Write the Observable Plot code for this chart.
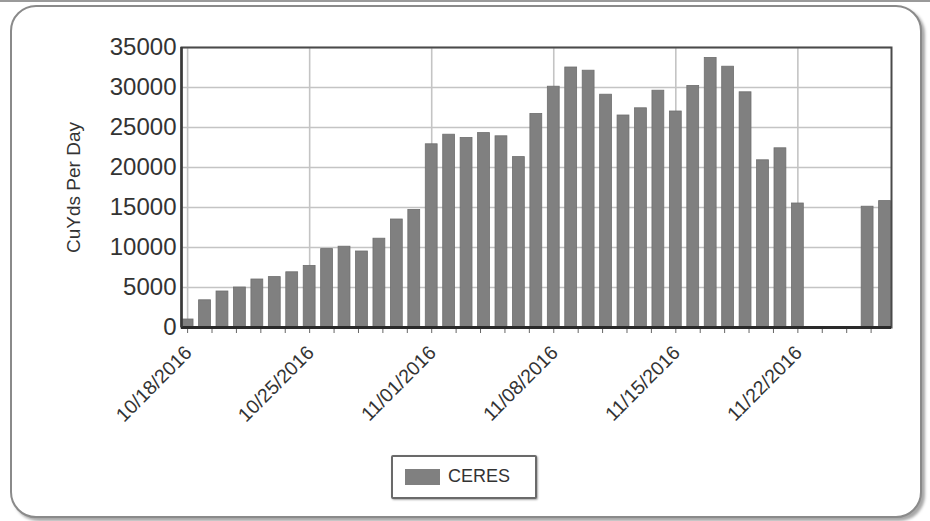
<!DOCTYPE html>
<html>
<head>
<meta charset="utf-8">
<script src="https://cdn.jsdelivr.net/npm/d3@7"></script>
<script src="https://cdn.jsdelivr.net/npm/@observablehq/plot@0.6"></script>
<style>
  html, body { margin: 0; padding: 0; background: #fff; width: 930px; height: 521px; overflow: hidden; font-family: "Liberation Sans", Arial, sans-serif; }
  #topline { position: absolute; left: 0; top: 0; width: 930px; height: 2px; background: #9a9a9a; }
  #frame { position: absolute; left: 10px; top: 5px; width: 908px; height: 509px; border: 2px solid #8a8a8a; border-radius: 26px; box-shadow: 3px 3px 3px rgba(0,0,0,0.35); background: #fff; }
  #chart { position: absolute; left: 0; top: 0; }
  #legend { position: absolute; left: 391px; top: 455px; width: 142px; height: 40px; border: 2px solid #6a6a6a; border-radius: 2px; box-shadow: 1px 1px 2px rgba(0,0,0,0.35); background: #fff; }
  #legend .sw { position: absolute; left: 12px; top: 12px; width: 35px; height: 16px; background: #808080; }
  #legend .lb { position: absolute; left: 55px; top: 9px; font-size: 18px; color: #333; line-height: 20px; }
</style>
</head>
<body>
<div id="topline"></div>
<div id="frame"></div>
<div id="chart"></div>
<div id="legend"><div class="sw"></div><div class="lb">CERES</div></div>
<script>
// ---- data ----
const dates = [
  "2016-10-18","2016-10-19","2016-10-20","2016-10-21","2016-10-22","2016-10-23","2016-10-24",
  "2016-10-25","2016-10-26","2016-10-27","2016-10-28","2016-10-29","2016-10-30","2016-10-31",
  "2016-11-01","2016-11-02","2016-11-03","2016-11-04","2016-11-05","2016-11-06","2016-11-07",
  "2016-11-08","2016-11-09","2016-11-10","2016-11-11","2016-11-12","2016-11-13","2016-11-14",
  "2016-11-15","2016-11-16","2016-11-17","2016-11-18","2016-11-19","2016-11-20","2016-11-21",
  "2016-11-22","2016-11-23","2016-11-24","2016-11-25","2016-11-26","2016-11-27"
];
const ceres = [
  1000, 3400, 4500, 5000, 6000, 6300, 6900,
  7700, 9800, 10100, 9500, 11100, 13500, 14700,
  22900, 24100, 23700, 24300, 23900, 21300, 26700,
  30100, 32500, 32100, 29100, 26500, 27400, 29600,
  27000, 30200, 33700, 32600, 29400, 20900, 22400,
  15500, null, null, null, 15100, 15800
];
const xTickLabels = ["10/18/2016","10/25/2016","11/01/2016","11/08/2016","11/15/2016","11/22/2016"];
const yTicks = [0, 5000, 10000, 15000, 20000, 25000, 30000, 35000];
const seriesName = "CERES";
const yLabel = "CuYds Per Day";

// ---- build ----
const DAY = 864e5;
const parse = d3.utcParse("%Y-%m-%d");
const parseLabel = d3.utcParse("%m/%d/%Y");
const rows = dates.map((d, i) => ({date: parse(d), value: ceres[i]})).filter(r => r.value != null);
const half = 0.34 * DAY;
const bars = rows.map(r => ({x1: new Date(+r.date - half), x2: new Date(+r.date + half), value: r.value}));
const weekTicks = xTickLabels.map(s => parseLabel(s));
const first = parse(dates[0]), last = parse(dates[dates.length - 1]);
const xDomain = [new Date(+first - 0.35 * DAY), new Date(+last + 0.37 * DAY)];
// minor ticks: five per labeled week
const minorTicks = [];
for (let t = +first; t <= +xDomain[1]; t += 1.4 * DAY) minorTicks.push(new Date(t));

const chart = Plot.plot({
  width: 930,
  height: 440,
  marginLeft: 181,
  marginRight: 39,
  marginTop: 47,
  marginBottom: 113,
  style: {background: "transparent", overflow: "visible", fontFamily: "'Liberation Sans', Arial, sans-serif"},
  x: {type: "utc", domain: xDomain, axis: null},
  y: {domain: [0, 35000], axis: null},
  marks: [
    Plot.gridY(yTicks, {stroke: "#c4c4c4", strokeOpacity: 1, strokeWidth: 1.6}),
    Plot.ruleX(weekTicks, {stroke: "#c4c4c4", strokeWidth: 1.6}),
    Plot.rectY(bars, {x1: "x1", x2: "x2", y: "value", fill: "#808080", stroke: "#6e6e6e", strokeWidth: 0.8}),
    Plot.frame({stroke: "#4a4a4a", strokeWidth: 2}),
    Plot.ruleX(minorTicks, {x: d => d, y1: 0, y2: 0, insetBottom: -6, stroke: "#666", strokeWidth: 1}),
    Plot.ruleY([0], {stroke: "#2a2a2a", strokeWidth: 3}),
    Plot.ruleX([xDomain[0]], {stroke: "#3a3a3a", strokeWidth: 2.5}),
    Plot.axisY(yTicks, {tickSize: 0, tickPadding: 5, fontSize: 24, fill: "#333", tickFormat: d => String(d), label: null}),
    Plot.text(weekTicks, {x: d => d, frameAnchor: "bottom", dy: 22, dx: 1, rotate: -45, textAnchor: "end", lineAnchor: "middle", text: (d, i) => xTickLabels[i], fontSize: 19.5, fill: "#333"}),
    Plot.text([yLabel], {frameAnchor: "left", dx: -108, rotate: -90, textAnchor: "middle", lineAnchor: "middle", text: d => d, fontSize: 19, fill: "#333"})
  ]
});
document.getElementById("chart").appendChild(chart);
</script>
</body>
</html>
